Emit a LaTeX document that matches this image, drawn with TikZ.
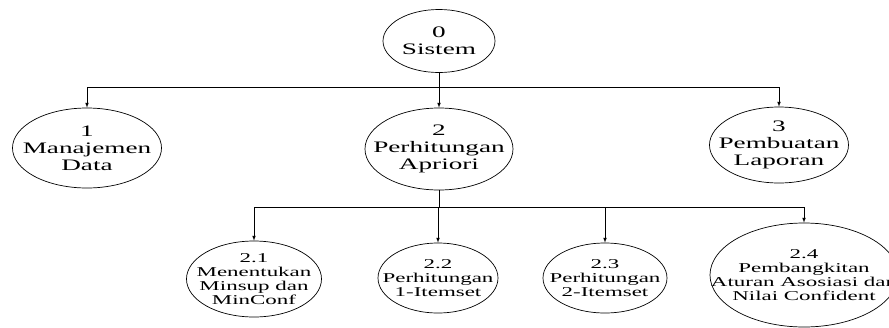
\documentclass[tikz,border=0pt]{standalone}
\usepackage{fontspec}
\setmainfont{Liberation Serif}[FakeStretch=1.7]
\usetikzlibrary{shapes.geometric}

\tikzset{
  proses/.style={draw, ellipse, inner sep=0pt, line width=0.7pt},
  atas/.style={font=\fontsize{16}{17}\selectfont, align=center, inner sep=0pt},
  bawah/.style={font=\fontsize{13.5}{14}\selectfont, align=center, inner sep=0pt},
}

\begin{document}
\begin{tikzpicture}[x=1pt, y=-1pt, line width=0.7pt]
\useasboundingbox (0,0) rectangle (889,327);

% level 0
\node[proses, minimum width=112pt, minimum height=63pt, label={[atas]center:{0\\Sistem}}] (sistem) at (439,41) {};

% level 1
\node[proses, minimum width=149pt, minimum height=80pt, label={[atas]center:{1\\Manajemen\\Data}}] (manajemen) at (87,148) {};
\node[proses, minimum width=148pt, minimum height=82pt, label={[atas]center:{2\\Perhitungan\\Apriori}}] (apriori) at (439,149) {};
\node[proses, minimum width=139pt, minimum height=76pt, label={[atas]center:{3\\Pembuatan\\Laporan}}] (laporan) at (779,145) {};

% level 2
\node[proses, minimum width=135pt, minimum height=76pt, label={[bawah]center:{2.1\\Menentukan\\Minsup dan\\MinConf}}] (minsup) at (254,279) {};
\node[proses, minimum width=120pt, minimum height=70pt, label={[bawah]center:{2.2\\Perhitungan\\1-Itemset}}] (itemsatu) at (438,278) {};
\node[proses, minimum width=124pt, minimum height=70pt, label={[bawah]center:{2.3\\Perhitungan\\2-Itemset}}] (itemdua) at (605,278) {};
\node[proses, minimum width=188pt, minimum height=104pt, label={[bawah]center:{2.4\\Pembangkitan\\Aturan Asosiasi dan\\Nilai Confident}}] (asosiasi) at (804,275) {};

% connectors
\coordinate (busatas) at (0,87);
\coordinate (busbawah) at (0,207);

\draw (sistem.south) -- (sistem.south |- busatas);
\draw (manajemen.north |- busatas) -- (laporan.north |- busatas);
\foreach \n in {manajemen,apriori,laporan}
  \draw[-latex] (\n.north |- busatas) -- (\n.north);

\draw (apriori.south) -- (apriori.south |- busbawah);
\draw (minsup.north |- busbawah) -- (asosiasi.north |- busbawah);
\foreach \n in {minsup,itemsatu,itemdua,asosiasi}
  \draw[-latex] (\n.north |- busbawah) -- (\n.north);

\end{tikzpicture}
\end{document}
